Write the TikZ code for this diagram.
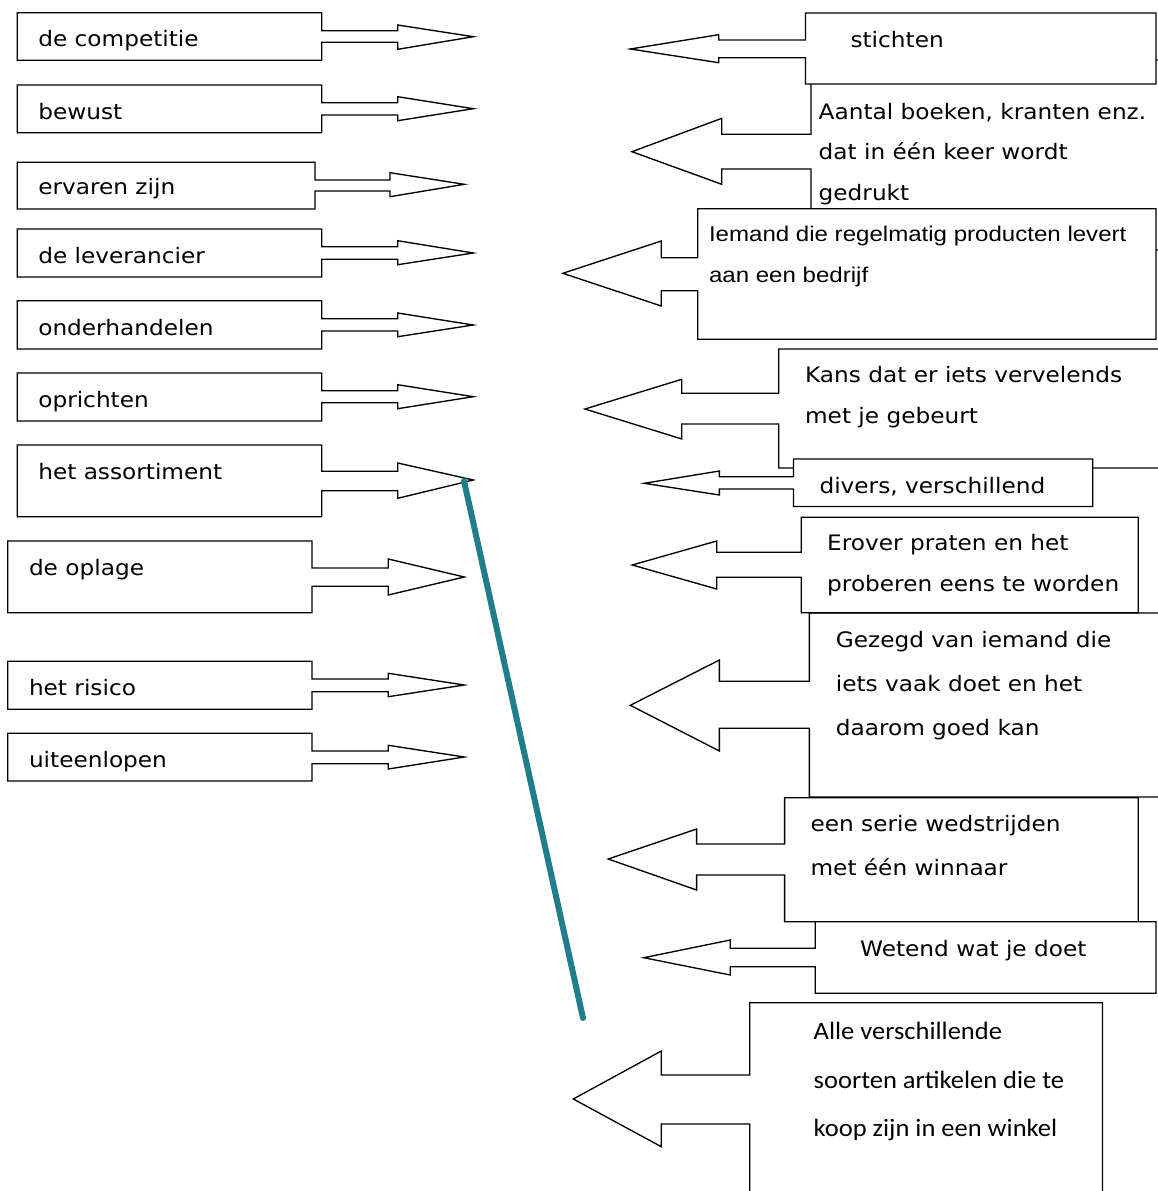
\documentclass[tikz,border=0pt]{standalone}
\usepackage{fontspec}
\newfontfamily\vfont{DejaVu Sans}[FakeStretch=1.09]
\newfontfamily\afont{Liberation Sans}[FakeStretch=1.13]
\newfontfamily\cfont{Carlito}[FakeStretch=1.06]
\definecolor{tealline}{RGB}{33,125,140}
\newcommand\mlines[2]{\vtop{\baselineskip=#1\lineskiplimit=-1000pt\lineskip=0pt #2}}
\tikzset{
  callout/.style={draw=black, fill=white, line width=1.35pt, line join=miter},
  vtxt/.style={anchor=base west, inner sep=0pt, outer sep=0pt, font=\vfont\fontsize{21.3}{25}\selectfont},
  atxt/.style={anchor=base west, inner sep=0pt, outer sep=0pt, font=\afont\fontsize{21.3}{25}\selectfont},
  ctxt/.style={anchor=base west, inner sep=0pt, outer sep=0pt, font=\cfont\fontsize{25}{30}\selectfont},
  link/.style={draw=tealline, line width=6pt, line cap=round}
}
\begin{document}
\begin{tikzpicture}[x=1pt,y=-1pt]
\useasboundingbox (0,0) rectangle (1158,1191);
\clip (0,0) rectangle (1158,1191);
\fill[white] (0,0) rectangle (1158,1191);

% ---------- left column (arrows pointing right) ----------
\draw[callout] (17.3,12.7) -- (321.7,12.7) -- (321.7,30.7) -- (397.7,30.7) -- (397.7,25) -- (473.3,36.7) -- (397.7,49.3) -- (397.7,42.3) -- (321.7,42.3) -- (321.7,60.3) -- (17.3,60.3) -- cycle;
\node[vtxt] (l1) at (38.3,46.7) {de competitie};

\draw[callout] (17.3,85) -- (321.7,85) -- (321.7,102.7) -- (397.7,102.7) -- (397.7,96.7) -- (473.3,108.7) -- (397.7,120.7) -- (397.7,115) -- (321.7,115) -- (321.7,132.7) -- (17.3,132.7) -- cycle;
\node[vtxt] (l2) at (38.3,119) {bewust};

\draw[callout] (17.3,162.3) -- (315,162.3) -- (315,180) -- (390,180) -- (390,172.7) -- (464.3,184.3) -- (390,196.7) -- (390,191) -- (315,191) -- (315,209) -- (17.3,209) -- cycle;
\node[vtxt] (l3) at (38.3,194.3) {ervaren zijn};

\draw[callout] (17.3,229) -- (321.7,229) -- (321.7,246.7) -- (397.7,246.7) -- (397.7,240.7) -- (473.3,253) -- (397.7,264.7) -- (397.7,259.3) -- (321.7,259.3) -- (321.7,277) -- (17.3,277) -- cycle;
\node[vtxt] (l4) at (38.3,263.3) {de leverancier};

\draw[callout] (17.3,300.7) -- (321.7,300.7) -- (321.7,318.7) -- (397.7,318.7) -- (397.7,313) -- (473.3,325) -- (397.7,336.7) -- (397.7,331) -- (321.7,331) -- (321.7,349) -- (17.3,349) -- cycle;
\node[vtxt] (l5) at (38.3,335.7) {onderhandelen};

\draw[callout] (17.3,373) -- (321.7,373) -- (321.7,390.7) -- (397.7,390.7) -- (397.7,384.7) -- (473.3,396.7) -- (397.7,408.7) -- (397.7,402.7) -- (321.7,402.7) -- (321.7,421) -- (17.3,421) -- cycle;
\node[vtxt] (l6) at (38.3,407.7) {oprichten};

\draw[callout] (17.3,445) -- (321.7,445) -- (321.7,471.3) -- (397.7,471.3) -- (397.7,463) -- (473.3,480) -- (397.7,498.3) -- (397.7,490.7) -- (321.7,490.7) -- (321.7,516.7) -- (17.3,516.7) -- cycle;
\node[vtxt] (l7) at (38.3,479.3) {het assortiment};
\coordinate (assortTip) at (464,481);

\draw[callout] (7.7,541) -- (312,541) -- (312,568) -- (388.3,568) -- (388.3,559) -- (464.3,577) -- (388.3,595) -- (388.3,586.3) -- (312,586.3) -- (312,612.7) -- (7.7,612.7) -- cycle;
\node[vtxt] (l8) at (29,575.3) {de oplage};

\draw[callout] (7.7,661.3) -- (312,661.3) -- (312,679) -- (388.3,679) -- (388.3,673.3) -- (464.3,685) -- (388.3,696.7) -- (388.3,691.7) -- (312,691.7) -- (312,709.3) -- (7.7,709.3) -- cycle;
\node[vtxt] (l9) at (29,695) {het risico};

\draw[callout] (7.7,733.3) -- (312,733.3) -- (312,751) -- (388.3,751) -- (388.3,745.3) -- (464.3,757) -- (388.3,769) -- (388.3,763.7) -- (312,763.7) -- (312,781) -- (7.7,781) -- cycle;
\node[vtxt] (l10) at (29,767.3) {uiteenlopen};

% ---------- right column (arrows pointing left) ----------
% Aantal (partly hidden)
\draw[callout] (1175,60) -- (811,60) -- (811,134.3) -- (721.8,134.3) -- (721.8,118.3) -- (632,151.7) -- (721.8,184.3) -- (721.8,169) -- (811,169) -- (811,250) -- (1175,250) -- cycle;
\node[vtxt] (r2) at (818.7,119.3) {\mlines{40.5pt}{\hbox{Aantal boeken, kranten enz.}\hbox{dat in één keer wordt}\hbox{gedrukt}}};

% stichten
\draw[callout] (1156,13) -- (805.5,13) -- (805.5,40) -- (718.7,40) -- (718.7,34.7) -- (630.3,49) -- (718.7,62.7) -- (718.7,57.7) -- (805.5,57.7) -- (805.5,84) -- (1156,84) -- cycle;
\node[vtxt] (r1) at (850.5,47) {stichten};

% Iemand
\draw[callout] (1156,208.7) -- (697.7,208.7) -- (697.7,257.7) -- (661.3,257.7) -- (661.3,241) -- (562.8,273.3) -- (661.3,306) -- (661.3,290.7) -- (697.7,290.7) -- (697.7,339.3) -- (1156,339.3) -- cycle;
\node[atxt] (r3) at (709,241.7) {\mlines{41pt}{\hbox{Iemand die regelmatig producten levert}\hbox{aan een bedrijf}}};

% Kans
\draw[callout] (1175,349) -- (778.8,349) -- (778.8,393.3) -- (681.8,393.3) -- (681.8,379.3) -- (584.9,409) -- (681.8,439) -- (681.8,424) -- (778.8,424) -- (778.8,468) -- (1175,468) -- cycle;
\node[vtxt] (r4) at (805.1,382.7) {\mlines{40.6pt}{\hbox{Kans dat er iets vervelends}\hbox{met je gebeurt}}};

% divers
\draw[callout] (1092.8,459) -- (793.5,459) -- (793.5,476.7) -- (719.4,476.7) -- (719.4,471) -- (644.2,483.3) -- (719.4,495) -- (719.4,489) -- (793.5,489) -- (793.5,506.5) -- (1092.8,506.5) -- cycle;
\node[vtxt] (r5) at (819.5,493.3) {divers, verschillend};

% Gezegd (partly hidden)
\draw[callout] (1175,613) -- (809.4,613) -- (809.4,681.3) -- (719.4,681.3) -- (719.4,660) -- (630.3,705.3) -- (719.4,751) -- (719.4,728.3) -- (809.4,728.3) -- (809.4,797) -- (1175,797) -- cycle;
\node[vtxt] (r7) at (835.8,647.7) {\mlines{44pt}{\hbox{Gezegd van iemand die}\hbox{iets vaak doet en het}\hbox{daarom goed kan}}};

% Erover
\draw[callout] (1138.2,517.3) -- (801.3,517.3) -- (801.3,552.3) -- (716.7,552.3) -- (716.7,541) -- (632.2,565) -- (716.7,589) -- (716.7,577.3) -- (801.3,577.3) -- (801.3,612.7) -- (1138.2,612.7) -- cycle;
\node[vtxt] (r6) at (827.2,550.7) {\mlines{41pt}{\hbox{Erover praten en het}\hbox{proberen eens te worden}}};

% een serie
\draw[callout] (1138.2,797.7) -- (784.6,797.7) -- (784.6,844) -- (696.6,844) -- (696.6,829) -- (608.2,859) -- (696.6,890) -- (696.6,875) -- (784.6,875) -- (784.6,921.7) -- (1138.2,921.7) -- cycle;
\node[vtxt] (r8) at (810.6,831.7) {\mlines{44pt}{\hbox{een serie wedstrijden}\hbox{met één winnaar}}};

% Wetend
\draw[callout] (1156,921.7) -- (815.2,921.7) -- (815.2,948.3) -- (730.3,948.3) -- (730.3,940) -- (643.8,957.7) -- (730.3,975) -- (730.3,966.7) -- (815.2,966.7) -- (815.2,993.3) -- (1156,993.3) -- cycle;
\node[vtxt] (r9) at (860.2,956) {Wetend wat je doet};

% Alle
\draw[callout] (1102.5,1002.7) -- (749.7,1002.7) -- (749.7,1075) -- (661.3,1075) -- (661.3,1051) -- (573.3,1099) -- (661.3,1146.7) -- (661.3,1124) -- (749.7,1124) -- (749.7,1200) -- (1102.5,1200) -- cycle;
\node[ctxt] (r10) at (813.7,1039.3) {\mlines{48.7pt}{\hbox{Alle verschillende}\hbox{soorten artikelen die te}\hbox{koop zijn in een winkel}}};

% ---------- connector ----------
\coordinate (tealEnd) at (583,1018);
\draw[link] (assortTip) -- (tealEnd);
\end{tikzpicture}
\end{document}
